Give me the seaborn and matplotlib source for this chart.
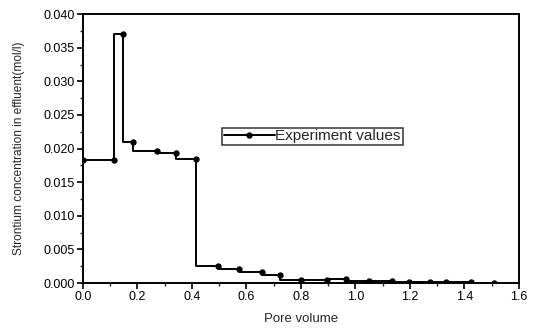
import matplotlib
matplotlib.use("Agg")
import matplotlib.pyplot as plt
from matplotlib.ticker import MultipleLocator, FormatStrFormatter
import seaborn as sns
import pandas as pd

pore_volume = [0.0, 0.114, 0.147, 0.182, 0.27, 0.34, 0.414, 0.496, 0.573, 0.658,
               0.722, 0.80, 0.895, 0.966, 1.048, 1.134, 1.198, 1.272, 1.332,
               1.424, 1.507]
concentration = [0.0183, 0.0183, 0.0371, 0.0210, 0.0197, 0.0194, 0.0184, 0.0025,
                 0.0021, 0.0017, 0.0012, 0.0004, 0.0005, 0.00065, 0.00035,
                 0.00025, 0.0002, 0.00015, 0.00015, 0.00012, 0.00008]
series_label = "Experiment values"
x_label = "Pore volume"
y_label = "Strontium concentration in effluent(mol/l)"

df = pd.DataFrame({"x": pore_volume, "y": concentration})

sns.set_style("ticks")
plt.rcParams['font.family'] = ['Liberation Sans', 'DejaVu Sans']

fig = plt.figure(figsize=(5.35, 3.28), dpi=100)
ax = fig.add_axes([0.155, 0.137, 0.815, 0.820])

sns.lineplot(data=df, x="x", y="y", ax=ax, color="black", linewidth=1.4,
             marker="o", markersize=3.8, markeredgecolor="black",
             drawstyle="steps-pre", label=series_label, estimator=None, sort=False)

ax.set_xlim(0, 1.6)
ax.set_ylim(0, 0.040)
ax.xaxis.set_major_locator(MultipleLocator(0.2))
ax.xaxis.set_minor_locator(MultipleLocator(0.1))
ax.yaxis.set_major_locator(MultipleLocator(0.005))
ax.yaxis.set_minor_locator(MultipleLocator(0.0025))
ax.xaxis.set_major_formatter(FormatStrFormatter("%.1f"))
ax.yaxis.set_major_formatter(FormatStrFormatter("%.3f"))

for s in ax.spines.values():
    s.set_visible(True)
    s.set_linewidth(1.4)
    s.set_color("black")

ax.tick_params(axis="both", which="major", direction="out", length=4.5, width=1.2,
               labelsize=9, colors="black", top=False, right=False, pad=1.5)
ax.tick_params(axis="both", which="minor", direction="out", length=2.2, width=1.0,
               top=False, right=False)

ax.set_xlabel(x_label, fontsize=9.5, labelpad=7)
ax.set_ylabel(y_label, fontsize=8.6)
ax.yaxis.set_label_coords(-0.133, 0.5)

leg = ax.legend(loc="upper left", bbox_to_anchor=(0.32, 0.578), borderaxespad=0,
                frameon=True, fancybox=False, fontsize=11, handlelength=3.3,
                borderpad=0.12, handletextpad=0.05)
leg.get_frame().set_edgecolor("black")
leg.get_frame().set_linewidth(1.1)

fig.savefig("out.png", dpi=100)
